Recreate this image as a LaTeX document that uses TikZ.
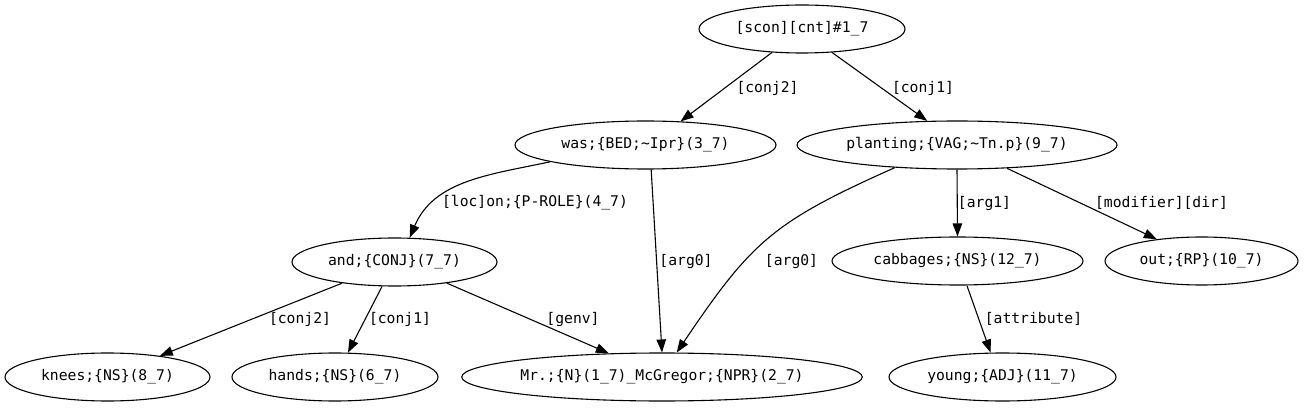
\documentclass[tikz,border=0pt]{standalone}
\usepackage{fontspec}
\newfontfamily\dvm{DejaVu Sans Mono}
\usetikzlibrary{arrows.meta,shapes.geometric}
\newcommand{\tl}{\textasciitilde}
\begin{document}
\begin{tikzpicture}[x=1pt,y=1pt,
  every node/.style={font=\dvm\fontsize{14.7}{17}\selectfont, text=black},
  gnode/.style={draw=black, line width=1.1pt, ellipse, inner sep=0pt, minimum height=48pt},
  elabel/.style={inner sep=0pt},
  edge/.style={draw=black, line width=1.1pt, -{Triangle[length=13pt,width=9.5pt]}}]
\useasboundingbox (0,0) rectangle (1305,407);
% nodes
\node[gnode, minimum width=206pt] (root) at (802,378) {[scon][cnt]\#1\_7};
\node[gnode, minimum width=261pt] (was) at (645.5,262) {was;\{BED;\tl Ipr\}(3\_7)};
\node[gnode, minimum width=320pt] (plant) at (957,262) {planting;\{VAG;\tl Tn.p\}(9\_7)};
\node[gnode, minimum width=205pt] (and) at (394.5,145) {and;\{CONJ\}(7\_7)};
\node[gnode, minimum width=251pt] (cabb) at (957.5,146) {cabbages;\{NS\}(12\_7)};
\node[gnode, minimum width=193pt] (out) at (1201.5,146) {out;\{RP\}(10\_7)};
\node[gnode, minimum width=205pt] (knees) at (107.5,30) {knees;\{NS\}(8\_7)};
\node[gnode, minimum width=206pt] (hands) at (335,30) {hands;\{NS\}(6\_7)};
\node[gnode, minimum width=400pt] (mr) at (662,30) {Mr.;\{N\}(1\_7)\_McGregor;\{NPR\}(2\_7)};
\node[gnode, minimum width=227pt] (young) at (1002.5,30) {young;\{ADJ\}(11\_7)};
% edges
\draw[edge] (root.218) -- (was.34);
\draw[edge] (root.322) -- (plant.141);
\draw[edge] (was.190) to[out=192,in=67] (and.58);
\draw[edge] (was.283) -- (mr.90);
\draw[edge] (plant.200) to[out=204,in=56,looseness=1.2] (mr.59);
\draw[edge] (plant.270) -- (cabb.90);
\draw[edge] (plant.335) -- (out.154);
\draw[edge] (and.202) -- (knees.22);
\draw[edge] (and.243) -- (hands.62);
\draw[edge] (and.338) -- (mr.156);
\draw[edge] (cabb.291) -- (young.116);
% edge labels
\node[elabel] (l1) at (767.5,319) {[conj2]};
\node[elabel] (l2) at (923,319) {[conj1]};
\node[elabel] (l3) at (535,204) {[loc]on;\{P-ROLE\}(4\_7)};
\node[elabel] (l4) at (686,146) {[arg0]};
\node[elabel] (l5) at (791.5,146) {[arg0]};
\node[elabel] (l6) at (984.5,204) {[arg1]};
\node[elabel] (l7) at (1161.5,204) {[modifier][dir]};
\node[elabel] (l8) at (573,88) {[genv]};
\node[elabel] (l9) at (300,88) {[conj2]};
\node[elabel] (l10) at (400,88) {[conj1]};
\node[elabel] (l11) at (1033.5,88) {[attribute]};
\end{tikzpicture}
\end{document}
